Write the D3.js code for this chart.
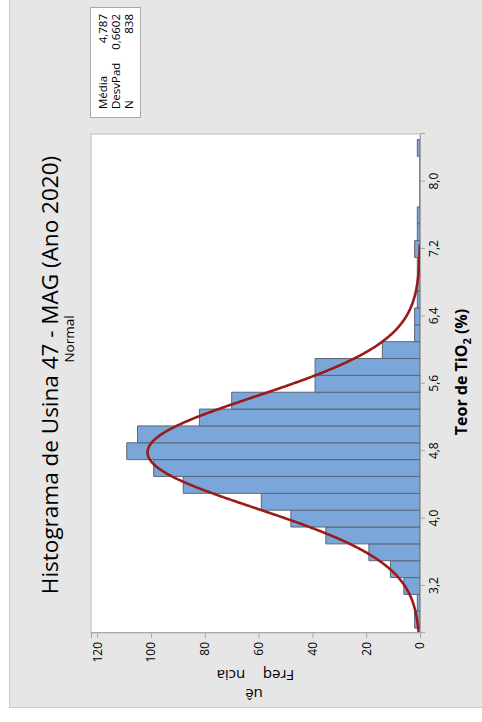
<!DOCTYPE html>
<html>
<head>
<meta charset="utf-8">
<script src="https://cdn.jsdelivr.net/npm/d3@7"></script>
<style>
  html, body { margin: 0; padding: 0; background: #ffffff; }
  svg { display: block; }
  text { font-family: "Open Sans", "Noto Sans", sans-serif; fill: #000; }
</style>
</head>
<body>
<svg id="chart" width="482" height="722"></svg>
<script>
// Histogram of TiO2 content, bins of 0.2 centred on each even tenth
const binCenters = [2.8, 3.0, 3.2, 3.4, 3.6, 3.8, 4.0, 4.2, 4.4, 4.6, 4.8, 5.0, 5.2, 5.4,
                    5.6, 5.8, 6.0, 6.2, 6.4, 6.6, 6.8, 7.0, 7.2, 7.4, 7.6, 7.8, 8.0, 8.2, 8.4];
const binCounts  = [2, 1, 6, 11, 19, 35, 48, 59, 88, 99, 109, 105, 82, 70,
                    39, 39, 14, 2, 2, 1, 1, 1, 2, 1, 1, 0, 0, 0, 1];
const binWidth = 0.2;

// Fitted normal distribution (summary table)
const statLabels = ["Média", "DesvPad", "N"];
const statValues = ["4,787", "0,6602", "838"];
const fitMean = 4.787;
const fitSd = 0.6602;
const fitN = 838;

// Axis ticks
const xTicks = [3.2, 4.0, 4.8, 5.6, 6.4, 7.2, 8.0];
const yTicks = [0, 20, 40, 60, 80, 100, 120];
const xDomain = [2.642, 8.565];
const yDomain = [0, 122.3];

// The whole figure is laid out landscape (722 x 482) and turned a quarter turn
const W = 722, H = 482;
const svg = d3.select("#chart");
const g = svg.append("g").attr("transform", `translate(0,${W}) rotate(-90)`);

// Outer panel
g.append("rect")
  .attr("x", 14.5).attr("y", 9.5).attr("width", W).attr("height", H)
  .attr("fill", "#e6e6e6").attr("stroke", "#c9c9c9");

const plot = { left: 89, right: 588, top: 91, bottom: 420 };
const x = d3.scaleLinear().domain(xDomain).range([plot.left, plot.right]);
const y = d3.scaleLinear().domain(yDomain).range([plot.bottom, plot.top]);

g.append("rect")
  .attr("x", plot.left).attr("y", plot.top)
  .attr("width", plot.right - plot.left).attr("height", plot.bottom - plot.top)
  .attr("fill", "#ffffff").attr("stroke", "#bdbdbd").attr("stroke-width", 1);

g.append("clipPath").attr("id", "plotclip").append("rect")
  .attr("x", plot.left).attr("y", plot.top)
  .attr("width", plot.right - plot.left).attr("height", plot.bottom - plot.top);

// Bars (paths so that empty bins still show their outline on the axis)
g.append("g").selectAll("path")
  .data(binCenters.map((c, i) => ({ c, n: binCounts[i] })))
  .join("path")
  .attr("d", d => {
    const x0 = x(d.c - binWidth / 2), x1 = x(d.c + binWidth / 2);
    const y0 = y(0), y1 = y(d.n);
    return `M${x0},${y0}V${y1}H${x1}V${y0}Z`;
  })
  .attr("fill", "#7aa6d9")
  .attr("stroke", "#5c6675")
  .attr("stroke-width", 1);

// Normal fit curve
const fitScale = fitN * binWidth / (fitSd * Math.sqrt(2 * Math.PI));
const curvePts = d3.range(xDomain[0], 7.26, 0.01).map(v => [v, fitScale * Math.exp(-0.5 * ((v - fitMean) / fitSd) ** 2)]);
g.append("path")
  .datum(curvePts)
  .attr("clip-path", "url(#plotclip)")
  .attr("fill", "none")
  .attr("stroke", "#9b1a1a")
  .attr("stroke-width", 2.6)
  .attr("d", d3.line().x(d => x(d[0])).y(d => y(d[1])));

// Axes
const locale = d3.formatLocale({ decimal: ",", thousands: ".", grouping: [3], currency: ["R$", ""] });
const fx = locale.format(".1f");

const xAxis = g.append("g")
  .attr("transform", `translate(0,${plot.bottom})`)
  .call(d3.axisBottom(x).tickValues(xTicks).tickFormat(fx).tickSize(5).tickPadding(4));
const yAxis = g.append("g")
  .attr("transform", `translate(${plot.left},0)`)
  .call(d3.axisLeft(y).tickValues(yTicks).tickSize(5).tickPadding(4));
[xAxis, yAxis].forEach(a => {
  a.select(".domain").attr("stroke", "#a8a8a8");
  a.selectAll(".tick line").attr("stroke", "#a8a8a8");
  a.selectAll(".tick text").attr("font-size", 12).attr("font-family", "Open Sans, sans-serif").attr("fill", "#000");
});

// Titles
g.append("text")
  .attr("x", 347).attr("y", 58)
  .attr("text-anchor", "middle")
  .attr("font-size", 22.5)
  .text("Histograma de Usina 47 - MAG (Ano 2020)");
g.append("text")
  .attr("x", 383).attr("y", 74)
  .attr("text-anchor", "middle")
  .attr("font-size", 13.5)
  .text("Normal");

// X axis title with subscript
const xt = g.append("text")
  .attr("x", 350).attr("y", 467)
  .attr("text-anchor", "middle")
  .attr("font-size", 16)
  .attr("font-weight", "bold");
xt.append("tspan").text("Teor de TiO");
xt.append("tspan").attr("font-size", 11).attr("dy", 4).text("2");
xt.append("tspan").attr("dy", -4).text(" (%)");

// Y axis title
const yt = g.append("text")
  .attr("transform", `translate(52,${(plot.top + plot.bottom) / 2}) rotate(-90)`)
  .attr("text-anchor", "middle")
  .attr("font-size", 15);
yt.append("tspan").text("Freq");
yt.append("tspan").attr("dy", -19).text("uê");
yt.append("tspan").attr("dy", 19).text("ncia");

// Summary table
const lg = g.append("g");
lg.append("rect")
  .attr("x", 604.5).attr("y", 90.5).attr("width", 110).attr("height", 50)
  .attr("fill", "#ffffff").attr("stroke", "#a8a8a8");
statLabels.forEach((lab, i) => {
  lg.append("text").attr("x", 613).attr("y", 107 + i * 13)
    .attr("font-size", 11.5).text(lab);
  lg.append("text").attr("x", 708).attr("y", 107 + i * 13)
    .attr("font-size", 11.5).attr("text-anchor", "end").text(statValues[i]);
});
</script>
</body>
</html>
